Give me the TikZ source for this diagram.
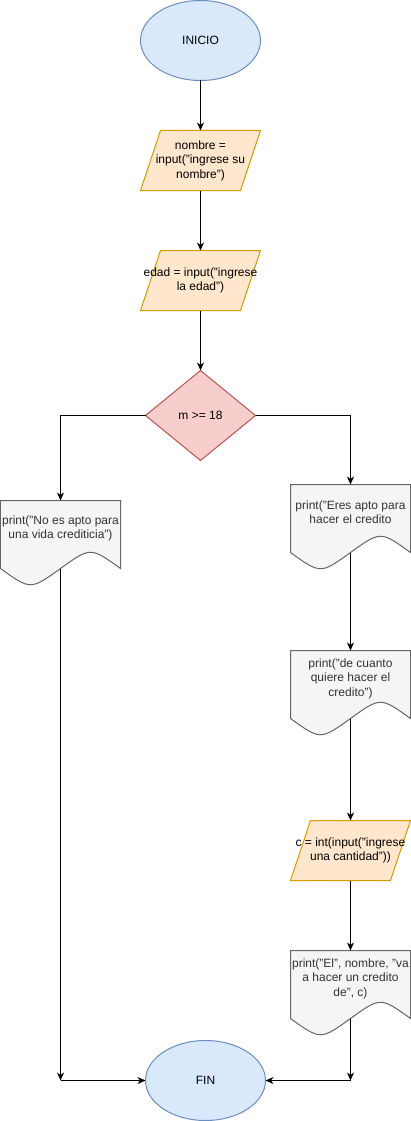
\documentclass[tikz,border=0pt]{standalone}
\usepackage{fontspec}
\setmainfont{Liberation Sans}
\usetikzlibrary{arrows.meta,shapes.geometric,calc,backgrounds}
\definecolor{bluefill}{HTML}{DAE8FC}
\definecolor{bluedraw}{HTML}{6C8EBF}
\definecolor{orfill}{HTML}{FFE6CC}
\definecolor{ordraw}{HTML}{D79B00}
\definecolor{redfill}{HTML}{F8CECC}
\definecolor{reddraw}{HTML}{B85450}
\definecolor{grfill}{HTML}{F5F5F5}
\definecolor{grdraw}{HTML}{666666}
\definecolor{grtext}{HTML}{333333}
\newcommand\mydocshape[1]{%
  \draw[docst] (#1.north west) -- (#1.north east) -- ($(#1.south east)+(0,12)$)
    .. controls ($(#1.south east)+(-30,-9.6)$) .. ($(#1.south)+(0,12)$)
    .. controls ($(#1.south west)+(30,33.6)$) .. ($(#1.south west)+(0,12)$) -- cycle;}
\newcommand\myioshape[1]{%
  \draw[iost] ($(#1.north west)+(20,0)$) -- (#1.north east) -- ($(#1.south east)+(-20,0)$) -- (#1.south west) -- cycle;}
\begin{document}
\begin{tikzpicture}[x=1pt,y=-1pt,
  every node/.style={font=\fontsize{12}{14.4}\selectfont, align=center, inner sep=0pt, outer sep=0pt},
  term/.style={ellipse, draw=bluedraw, fill=bluefill, line width=1pt, minimum width=120pt, minimum height=80pt},
  iobox/.style={minimum width=120pt, minimum height=60pt},
  docbox/.style={minimum width=120pt, minimum height=56pt, text=grtext},
  decbox/.style={minimum width=110pt, minimum height=90pt},
  iost/.style={draw=ordraw, fill=orfill, line width=1pt, line join=miter},
  docst/.style={draw=grdraw, fill=grfill, line width=1pt},
  decst/.style={draw=reddraw, fill=redfill, line width=1pt},
  arr/.style={draw=black, line width=1pt, -{Stealth[length=8pt,width=7pt,inset=2.5pt]}}
]
\useasboundingbox (-0.5,-0.5) rectangle (410.5,1120.5);

\node[term] (inicio) at (200,40) {INICIO};
\node[iobox] (nom) at (200,160) {nombre =\\ input("ingrese su\\ nombre")};
\node[iobox] (edad) at (200,280) {edad = input("ingrese\\ la edad")};
\node[decbox] (dec) at (200,415) {m >= 18};
\node[docbox] (d1) at (60,528) {print("No es apto para\\ una vida crediticia")};
\node[docbox] (d2) at (350,512) {print("Eres apto para\\ hacer el credito};
\node[docbox] (d3) at (350,678) {print("de cuanto\\ quiere hacer el\\ credito")};
\node[iobox] (cin) at (350,850) {c = int(input("ingrese\\ una cantidad"))};
\node[docbox] (d4) at (350,978) {print("El", nombre, "va\\ a hacer un credito\\ de", c)};
\node[term] (fin) at (205,1080) {FIN};

\coordinate (d1b) at ($(d1.south)+(0,12)$);
\coordinate (d2b) at ($(d2.south)+(0,12)$);
\coordinate (d3b) at ($(d3.south)+(0,12)$);
\coordinate (d4b) at ($(d4.south)+(0,12)$);
\coordinate (cl) at (60,1080);
\coordinate (cr) at (350,1080);

\begin{pgfonlayer}{background}
\myioshape{nom}
\myioshape{edad}
\myioshape{cin}
\draw[decst] (dec.north) -- (dec.east) -- (dec.south) -- (dec.west) -- cycle;
\mydocshape{d1}
\mydocshape{d2}
\mydocshape{d3}
\mydocshape{d4}
\end{pgfonlayer}

\draw[arr] (inicio.south) -- (nom.north);
\draw[arr] (nom.south) -- (edad.north);
\draw[arr] (edad.south) -- (dec.north);
\draw[arr] (dec.west) -| (d1.north);
\draw[arr] (dec.east) -| (d2.north);
\draw[arr] (d2b) -- (d3.north);
\draw[arr] (d3b) -- (cin.north);
\draw[arr] (cin.south) -- (d4.north);
\draw[arr] (d1b) -- (cl);
\draw[arr] (cl) -- (fin.west);
\draw[arr] (d4b) -- (cr);
\draw[arr] (cr) -- (fin.east);
\end{tikzpicture}
\end{document}
